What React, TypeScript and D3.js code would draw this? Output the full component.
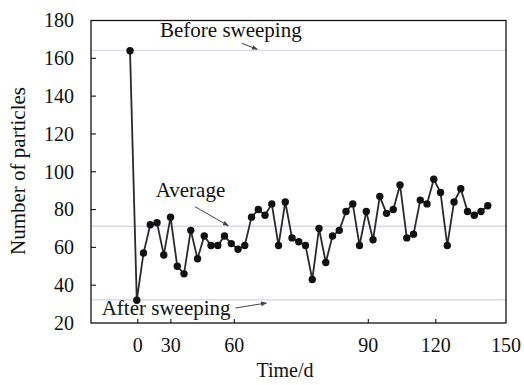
import React from 'react';
import * as d3 from 'd3';

// particle counts, one per sampling (first one is before sweeping)
const particles = [
  164, 32, 57, 72, 73, 56, 76, 50, 46, 69, 54, 66, 61, 61, 66, 62, 59, 61, 76, 80,
  77, 83, 61, 84, 65, 63, 61, 43, 70, 52, 66, 69, 79, 83, 61, 79, 64, 87, 78, 80,
  93, 65, 67, 85, 83, 96, 89, 61, 84, 91, 79, 77, 79, 82,
];

// reference levels
const beforeSweeping = 164.2;
const averageLevel = 71.2;
const afterSweeping = 32.3;

// x axis: day labels and the sample position they sit at (the original axis is uneven)
const dayTicks = [0, 30, 60, 90, 120, 150];
const dayTickSample = [1.15, 6.05, 15.45, 35.3, 45.3, 55.7];

const yTicks = [20, 40, 60, 80, 100, 120, 140, 160, 180];

const W = 524;
const H = 385;
const margin = { top: 20.5, right: 18, bottom: 62, left: 91 };
const FONT = '"Liberation Serif", "Times New Roman", serif';

const App: React.FC = () => {
  const innerW = W - margin.left - margin.right;
  const innerH = H - margin.top - margin.bottom;

  const x = d3.scaleLinear().domain([-5.78, 55.7]).range([0, innerW]);
  const y = d3.scaleLinear().domain([20, 180]).range([innerH, 0]);

  const line = d3
    .line<number>()
    .x((_, i) => x(i))
    .y(d => y(d));

  const refLines = [beforeSweeping, averageLevel, afterSweeping];
  const lineColor = '#d9d9ef';
  const arrowColor = '#444';

  return (
    <svg
      width={W}
      height={H}
      style={{ position: 'absolute', left: 0, top: 0, background: '#fff' }}
      fontFamily={FONT}
    >
      <defs>
        <marker id="arr" viewBox="0 0 10 10" refX="9" refY="5" markerWidth="6" markerHeight="6" orient="auto">
          <path d="M0,1 L10,5 L0,9 z" fill={arrowColor} />
        </marker>
      </defs>
      <g transform={`translate(${margin.left},${margin.top})`}>
        {/* reference levels */}
        {refLines.map((v, i) => (
          <line key={i} x1={0} x2={innerW} y1={y(v)} y2={y(v)} stroke={lineColor} strokeWidth={1.4} />
        ))}

        {/* frame */}
        <rect x={0} y={0} width={innerW} height={innerH} fill="none" stroke="#111" strokeWidth={1.3} />

        {/* y ticks */}
        {yTicks.map(t => (
          <g key={t} transform={`translate(0,${y(t)})`}>
            {t !== 20 && t !== 180 && <line x1={0} x2={5} stroke="#111" strokeWidth={1.1} />}
            <text x={-17} dy="0.34em" textAnchor="end" fontSize={20} fill="#111">
              {t}
            </text>
          </g>
        ))}

        {/* x ticks */}
        {dayTicks.map((d, i) => (
          <g key={d} transform={`translate(${x(dayTickSample[i])},${innerH})`}>
            {i < dayTicks.length - 1 && <line y1={0} y2={-4} stroke="#111" strokeWidth={1.1} />}
            <text y={29} textAnchor="middle" fontSize={20} fill="#111">
              {d}
            </text>
          </g>
        ))}

        {/* series */}
        <path d={line(particles) || ''} fill="none" stroke="#2a2a2a" strokeWidth={1.8} />
        {particles.map((v, i) => (
          <circle key={i} cx={x(i)} cy={y(v)} r={3.7} fill="#111" />
        ))}

        {/* annotations */}
        <text x={69} y={16.3} fontSize={21} fill="#111">Before sweeping</text>
        <line x1={150.7} y1={22.8} x2={166.3} y2={28.8} stroke={arrowColor} strokeWidth={1} markerEnd="url(#arr)" />

        <text x={64.7} y={176.5} fontSize={21} fill="#111">Average</text>
        <line x1={104} y1={186.2} x2={137.3} y2={205.2} stroke={arrowColor} strokeWidth={1} markerEnd="url(#arr)" />

        <text x={10.7} y={294.5} fontSize={21} fill="#111">After sweeping</text>
        <line x1={144.5} y1={287.5} x2={175.5} y2={282.5} stroke={arrowColor} strokeWidth={1} markerEnd="url(#arr)" />
      </g>

      {/* axis titles */}
      <text x={285} y={377} textAnchor="middle" fontSize={20} fill="#111">Time/d</text>
      <text transform="translate(25,171) rotate(-90)" textAnchor="middle" fontSize={21} fill="#111">
        Number of particles
      </text>
    </svg>
  );
};

export default App;
